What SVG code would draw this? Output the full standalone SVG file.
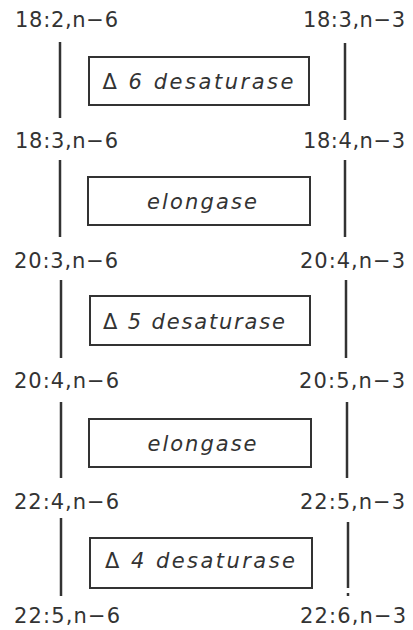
<svg xmlns="http://www.w3.org/2000/svg" width="413" height="630" viewBox="0 0 413 630">
<style>
.lbl{font-family:"DejaVu Sans",Arial,sans-serif;font-size:21px;fill:#333}
.enz{font-family:"DejaVu Sans",Arial,sans-serif;font-size:21px;font-style:italic;fill:#333;text-anchor:middle}
.up{font-style:normal}
.box{fill:#fff;stroke:#333;stroke-width:2}
.ln{stroke:#333;stroke-width:2.5;fill:none}
</style>
<rect width="413" height="630" fill="#fff"/>
<g id="labels-left">
<text class="lbl" x="15" y="27" textLength="103">18:2,n−6</text>
<text class="lbl" x="15" y="148" textLength="103">18:3,n−6</text>
<text class="lbl" x="14" y="268" textLength="104">20:3,n−6</text>
<text class="lbl" x="14" y="388" textLength="105">20:4,n−6</text>
<text class="lbl" x="14" y="509" textLength="105">22:4,n−6</text>
<text class="lbl" x="14" y="623" textLength="106">22:5,n−6</text>
</g>
<g id="labels-right">
<text class="lbl" x="303" y="27" textLength="102">18:3,n−3</text>
<text class="lbl" x="303" y="148" textLength="102">18:4,n−3</text>
<text class="lbl" x="300" y="268" textLength="105">20:4,n−3</text>
<text class="lbl" x="299" y="388" textLength="106">20:5,n−3</text>
<text class="lbl" x="300" y="509" textLength="105">22:5,n−3</text>
<text class="lbl" x="300" y="623" textLength="106">22:6,n−3</text>
</g>
<g id="connectors">
<line class="ln" x1="60" y1="42" x2="60" y2="118"/>
<line class="ln" x1="345" y1="43" x2="345" y2="120"/>
<line class="ln" x1="60" y1="160" x2="60" y2="237"/>
<line class="ln" x1="345" y1="160" x2="345" y2="237"/>
<line class="ln" x1="61" y1="280" x2="61" y2="358"/>
<line class="ln" x1="346" y1="280" x2="346" y2="358"/>
<line class="ln" x1="61" y1="402" x2="61" y2="478"/>
<line class="ln" x1="347" y1="402" x2="347" y2="478"/>
<line class="ln" x1="61" y1="518" x2="61" y2="596"/>
<line class="ln" x1="348" y1="522" x2="348" y2="588"/>
<line class="ln" x1="348" y1="593" x2="348" y2="596"/>
</g>
<g id="enz1">
<rect class="box" x="89" y="57" width="220" height="48"/>
<text class="enz" x="198" y="89" textLength="191"><tspan class="up">Δ</tspan> 6  desaturase</text>
</g>
<g id="enz2">
<rect class="box" x="88" y="177" width="222" height="48"/>
<text class="enz" x="202" y="209" textLength="110">elongase</text>
</g>
<g id="enz3">
<rect class="box" x="90" y="296" width="220" height="49"/>
<text class="enz" x="194" y="329" textLength="182"><tspan class="up">Δ</tspan> 5  desaturase</text>
</g>
<g id="enz4">
<rect class="box" x="89" y="419" width="222" height="48"/>
<text class="enz" x="202" y="451" textLength="109">elongase</text>
</g>
<g id="enz5">
<rect class="box" x="90" y="538" width="222" height="50"/>
<text class="enz" x="200" y="568" textLength="190"><tspan class="up">Δ</tspan> 4  desaturase</text>
</g>
</svg>
